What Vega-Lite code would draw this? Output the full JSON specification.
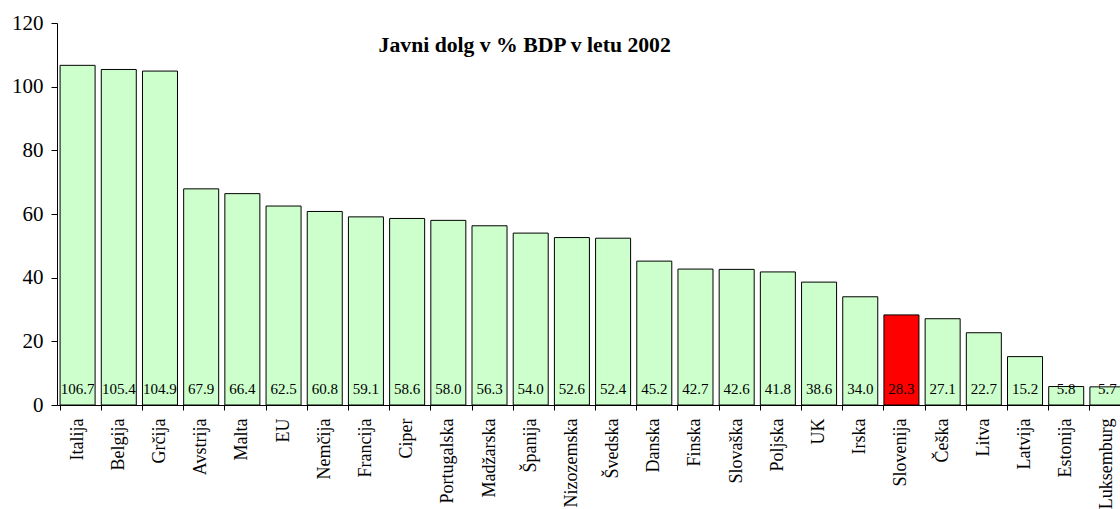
{
  "$schema": "https://vega.github.io/schema/vega-lite/v6.json",
  "autosize": "none",
  "width": 1063,
  "height": 382,
  "padding": {"left": 57, "top": 23, "right": 0, "bottom": 104},
  "background": "white",
  "config": {"view": {"stroke": null}, "font": "Times New Roman, Liberation Serif, serif"},
  "data": {
    "values": [
      {"drzava": "Italija", "dolg": 106.7, "slo": "ne"},
      {"drzava": "Belgija", "dolg": 105.4, "slo": "ne"},
      {"drzava": "Grčija", "dolg": 104.9, "slo": "ne"},
      {"drzava": "Avstrija", "dolg": 67.9, "slo": "ne"},
      {"drzava": "Malta", "dolg": 66.4, "slo": "ne"},
      {"drzava": "EU", "dolg": 62.5, "slo": "ne"},
      {"drzava": "Nemčija", "dolg": 60.8, "slo": "ne"},
      {"drzava": "Francija", "dolg": 59.1, "slo": "ne"},
      {"drzava": "Ciper", "dolg": 58.6, "slo": "ne"},
      {"drzava": "Portugalska", "dolg": 58.0, "slo": "ne"},
      {"drzava": "Madžarska", "dolg": 56.3, "slo": "ne"},
      {"drzava": "Španija", "dolg": 54.0, "slo": "ne"},
      {"drzava": "Nizozemska", "dolg": 52.6, "slo": "ne"},
      {"drzava": "Švedska", "dolg": 52.4, "slo": "ne"},
      {"drzava": "Danska", "dolg": 45.2, "slo": "ne"},
      {"drzava": "Finska", "dolg": 42.7, "slo": "ne"},
      {"drzava": "Slovaška", "dolg": 42.6, "slo": "ne"},
      {"drzava": "Poljska", "dolg": 41.8, "slo": "ne"},
      {"drzava": "UK", "dolg": 38.6, "slo": "ne"},
      {"drzava": "Irska", "dolg": 34.0, "slo": "ne"},
      {"drzava": "Slovenija", "dolg": 28.3, "slo": "da"},
      {"drzava": "Češka", "dolg": 27.1, "slo": "ne"},
      {"drzava": "Litva", "dolg": 22.7, "slo": "ne"},
      {"drzava": "Latvija", "dolg": 15.2, "slo": "ne"},
      {"drzava": "Estonija", "dolg": 5.8, "slo": "ne"},
      {"drzava": "Luksemburg", "dolg": 5.7, "slo": "ne"}
    ]
  },
  "encoding": {
    "x": {
      "field": "drzava",
      "type": "nominal",
      "sort": null,
      "scale": {"range": [0, 1071], "paddingInner": 0.15, "paddingOuter": 0.075},
      "axis": {
        "title": null,
        "labelAngle": -90,
        "labelAlign": "right",
        "labelBaseline": "middle",
        "labelFont": "Times New Roman, Liberation Serif, serif",
        "labelFontSize": 18,
        "labelColor": "black",
        "labelPadding": 8,
        "tickSize": 5,
        "tickColor": "black",
        "domainColor": "black",
        "bandPosition": 0,
        "labelBound": false,
        "labelOverlap": false
      }
    }
  },
  "layer": [
    {
      "mark": {"type": "bar", "stroke": "black", "strokeWidth": 1},
      "encoding": {
        "y": {
          "field": "dolg",
          "type": "quantitative",
          "scale": {"domain": [0, 120], "nice": false},
          "axis": {
            "title": null,
            "values": [0, 20, 40, 60, 80, 100, 120],
            "grid": false,
            "labelFont": "Times New Roman, Liberation Serif, serif",
            "labelFontSize": 21,
            "labelColor": "black",
            "labelPadding": 8,
            "tickSize": 6,
            "tickColor": "black",
            "domainColor": "black"
          }
        },
        "color": {
          "field": "slo",
          "type": "nominal",
          "scale": {"domain": ["ne", "da"], "range": ["#CCFFCC", "#FF0000"]},
          "legend": null
        }
      }
    },
    {
      "mark": {"type": "text", "font": "Times New Roman, Liberation Serif, serif", "fontSize": 15, "color": "black", "baseline": "alphabetic"},
      "encoding": {
        "y": {"datum": 3.6},
        "text": {"field": "dolg", "type": "quantitative", "format": ".1f"}
      }
    },
    {
      "data": {"values": [{"naslov": "Javni dolg v % BDP v letu 2002"}]},
      "mark": {"type": "text", "font": "Times New Roman, Liberation Serif, serif", "fontSize": 21.7, "fontWeight": "bold", "color": "black", "baseline": "alphabetic", "align": "center", "dx": -6},
      "encoding": {
        "x": {"datum": "Španija"},
        "y": {"datum": 110.9},
        "text": {"field": "naslov", "type": "nominal"}
      }
    }
  ]
}
